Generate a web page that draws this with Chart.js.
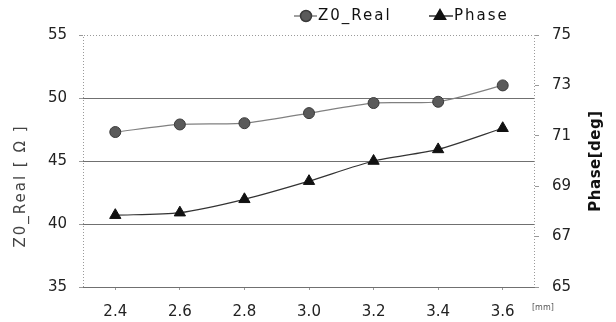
<!DOCTYPE html>
<html><head><meta charset="utf-8">
<script src="https://cdn.jsdelivr.net/npm/chart.js@4"></script>
<style>html,body{margin:0;padding:0;background:#fff}#w{width:616px;height:322px}</style>
</head><body>
<div id="w"><canvas id="c" width="616" height="322"></canvas></div>
<script>
const categories = ['2.4', '2.6', '2.8', '3.0', '3.2', '3.4', '3.6'];
const z0Real = [47.3, 47.9, 48.0, 48.8, 49.6, 49.7, 51.0];
const phase = [67.85, 67.95, 68.48, 69.2, 70.0, 70.46, 71.3];
const leftTicks = [35, 40, 45, 50, 55];
const rightTicks = [65, 67, 69, 71, 73, 75];
const seriesNames = ['Z0_Real', 'Phase'];
const leftTitle = 'Z0_Real [ Ω ]';
const rightTitle = 'Phase[deg]';
const unitLabel = '[mm]';

const FONT = 'DejaVu Sans';

const framePlugin = {
  id: 'frame',
  beforeDatasetsDraw(chart) {
    const {ctx, chartArea: a} = chart;
    ctx.save();
    ctx.strokeStyle = '#9a9a9a';
    ctx.lineWidth = 1;
    ctx.setLineDash([1, 2]);
    ctx.beginPath();
    ctx.moveTo(Math.round(a.left) + 0.5, Math.round(a.bottom));
    ctx.lineTo(Math.round(a.left) + 0.5, Math.round(a.top) + 0.5);
    ctx.lineTo(Math.round(a.right) - 0.5, Math.round(a.top) + 0.5);
    ctx.lineTo(Math.round(a.right) - 0.5, Math.round(a.bottom));
    ctx.stroke();
    ctx.restore();
  }
};

const textPlugin = {
  id: 'texts',
  afterDraw(chart) {
    const ctx = chart.ctx;
    const ds = chart.data.datasets;
    const items = [
      {x0: 294, x1: 317, mx: 306, tx: 318},
      {x0: 429, x1: 453, mx: 440, tx: 454}
    ];
    const ly = 16;
    items.forEach((it, i) => {
      const d = ds[i];
      ctx.save();
      ctx.strokeStyle = d.borderColor;
      ctx.lineWidth = 1.5;
      ctx.beginPath();
      ctx.moveTo(it.x0, ly); ctx.lineTo(it.x1, ly);
      ctx.stroke();
      ctx.fillStyle = d.pointBackgroundColor;
      ctx.strokeStyle = d.pointBorderColor;
      Chart.helpers.drawPoint(ctx, {pointStyle: d.pointStyle, radius: d.pointRadius, borderWidth: 1, rotation: 0}, it.mx, ly);
      ctx.fillStyle = '#111';
      ctx.font = '15px "' + FONT + '"';
      ctx.letterSpacing = '2px';
      ctx.textBaseline = 'middle';
      ctx.textAlign = 'left';
      ctx.fillText(seriesNames[i], it.tx, ly);
      ctx.restore();
    });
    ctx.save();
    ctx.translate(21, 186);
    ctx.rotate(-Math.PI / 2);
    ctx.font = '15px "' + FONT + '"';
    ctx.letterSpacing = '2px';
    ctx.fillStyle = '#444';
    ctx.textAlign = 'center';
    ctx.textBaseline = 'middle';
    ctx.fillText(leftTitle, 0, 0);
    ctx.restore();
    ctx.save();
    ctx.translate(596, 161);
    ctx.rotate(-Math.PI / 2);
    ctx.font = 'bold 15px "' + FONT + '"';
    ctx.letterSpacing = '0.5px';
    ctx.fillStyle = '#111';
    ctx.textAlign = 'center';
    ctx.textBaseline = 'middle';
    ctx.fillText(rightTitle, 0, 0);
    ctx.restore();
    ctx.save();
    ctx.font = '8px "' + FONT + '"';
    ctx.fillStyle = '#555';
    ctx.textAlign = 'left';
    ctx.textBaseline = 'middle';
    ctx.fillText(unitLabel, 532, 308);
    ctx.restore();
  }
};

new Chart(document.getElementById('c'), {
  type: 'line',
  data: {
    labels: categories,
    datasets: [
      {
        label: seriesNames[0], data: z0Real, yAxisID: 'y',
        borderColor: '#808080', borderWidth: 1.2, tension: 0.25,
        pointStyle: 'circle', pointRadius: 5.5, pointBackgroundColor: '#5a5a5a',
        pointBorderColor: '#3a3a3a', pointBorderWidth: 1
      },
      {
        label: seriesNames[1], data: phase, yAxisID: 'y2',
        borderColor: '#333333', borderWidth: 1.2, tension: 0.25,
        pointStyle: 'triangle', pointRadius: 6.5, pointBackgroundColor: '#111111',
        pointBorderColor: '#111111', pointBorderWidth: 1
      }
    ]
  },
  options: {
    responsive: false,
    animation: false,
    devicePixelRatio: 1,
    layout: {padding: {top: 35, left: 0, right: 0, bottom: 0}},
    plugins: {legend: {display: false}, tooltip: {enabled: false}},
    scales: {
      x: {
        type: 'category', offset: true,
        grid: {display: true, drawOnChartArea: false, drawTicks: true, tickLength: 3, offset: false, color: '#999'},
        border: {display: false},
        ticks: {padding: 13, maxRotation: 0, color: '#222', font: {family: FONT, size: 15}},
        afterFit(s) { s.height = 35; }
      },
      y: {
        position: 'left', min: 35, max: 55,
        afterBuildTicks(s) { s.ticks = leftTicks.map(v => ({value: v})); },
        grid: {
          color: c => (c.tick && c.tick.value === 55) ? 'rgba(0,0,0,0)' : '#707070',
          tickColor: '#999', tickLength: 4, lineWidth: 1
        },
        border: {display: false},
        ticks: {padding: 12, color: '#222', font: {family: FONT, size: 15}},
        afterFit(s) { s.width = 83; }
      },
      y2: {
        position: 'right', min: 65, max: 75,
        afterBuildTicks(s) { s.ticks = rightTicks.map(v => ({value: v})); },
        grid: {drawOnChartArea: false, tickColor: '#999', tickLength: 4},
        border: {display: false},
        ticks: {padding: 13, color: '#222', font: {family: FONT, size: 15}},
        afterFit(s) { s.width = 81; }
      }
    }
  },
  plugins: [framePlugin, textPlugin]
});
</script>
</body></html>
